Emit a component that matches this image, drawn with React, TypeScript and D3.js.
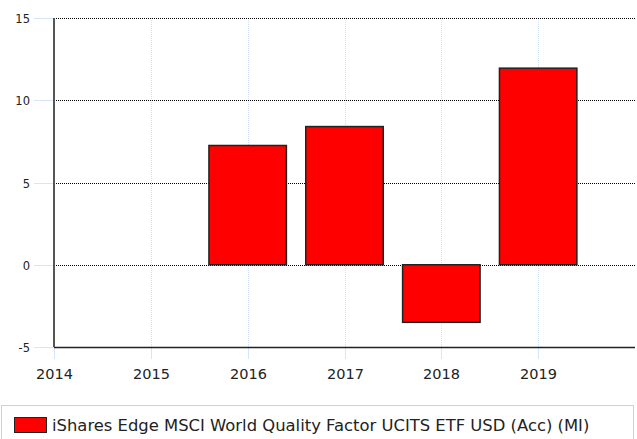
import React, { useEffect, useRef } from 'react';
import * as d3 from 'd3';

const years = [2016, 2017, 2018, 2019];
const returns = [7.25, 8.4, -3.5, 11.95];
const xTicks = [2014, 2015, 2016, 2017, 2018, 2019];
const yTicks = [-5, 0, 5, 10, 15];
const seriesName = 'iShares Edge MSCI World Quality Factor UCITS ETF USD (Acc) (MI)';

const width = 637;
const height = 439;
const margin = { top: 18, right: 2, bottom: 92, left: 54 };

const App = () => {
  const ref = useRef<SVGSVGElement | null>(null);

  useEffect(() => {
    const svg = d3.select(ref.current);
    svg.selectAll('*').remove();

    const x = d3.scaleLinear().domain([2014, 2020]).range([margin.left, width - margin.right]);
    const y = d3.scaleLinear().domain([-5, 15]).range([height - margin.bottom, margin.top]);
    const font = 'Tahoma, "DejaVu Sans", Verdana, sans-serif';

    // vertical grid (light blue)
    svg.append('g')
      .selectAll('line')
      .data(xTicks.slice(1))
      .enter()
      .append('line')
      .attr('x1', (d) => Math.round(x(d)) + 0.5)
      .attr('x2', (d) => Math.round(x(d)) + 0.5)
      .attr('y1', y(15))
      .attr('y2', y(-5))
      .attr('stroke', '#cfe0f5')
      .attr('stroke-dasharray', '1,1');

    // horizontal grid (black dotted)
    svg.append('g')
      .selectAll('line')
      .data(yTicks.slice(1))
      .enter()
      .append('line')
      .attr('x1', x(2014))
      .attr('x2', x(2020))
      .attr('y1', (d) => Math.round(y(d)) + 0.5)
      .attr('y2', (d) => Math.round(y(d)) + 0.5)
      .attr('stroke', '#000')
      .attr('stroke-dasharray', '1,1');

    // y tick marks + labels
    const yAxis = svg.append('g');
    yTicks.forEach((t) => {
      const yy = Math.round(y(t)) + 0.5;
      yAxis.append('line')
        .attr('x1', 34).attr('x2', x(2014))
        .attr('y1', yy).attr('y2', yy)
        .attr('stroke', '#d6e6f8');
      yAxis.append('text')
        .attr('x', 30)
        .attr('y', yy)
        .attr('dy', '0.35em')
        .attr('text-anchor', 'end')
        .style('font-family', font)
        .style('font-size', '11.5px')
        .style('fill', '#222')
        .text(t);
    });

    // x tick marks + labels
    const xAxis = svg.append('g');
    xTicks.forEach((t) => {
      const xx = Math.round(x(t)) + 0.5;
      xAxis.append('line')
        .attr('x1', xx).attr('x2', xx)
        .attr('y1', y(-5)).attr('y2', y(-5) + 12)
        .attr('stroke', '#d6e6f8');
      xAxis.append('text')
        .attr('x', xx)
        .attr('y', 379)
        .attr('text-anchor', 'middle')
        .style('font-family', font)
        .style('font-size', '14.5px')
        .style('fill', '#222')
        .text(t);
    });

    // bars
    const barW = (x(2015) - x(2014)) * 0.8;
    svg.append('g')
      .selectAll('rect')
      .data(years.map((yr, i) => ({ yr, v: returns[i] })))
      .enter()
      .append('rect')
      .attr('x', (d) => x(d.yr) - barW / 2)
      .attr('width', barW)
      .attr('y', (d) => y(Math.max(0, d.v)))
      .attr('height', (d) => Math.abs(y(d.v) - y(0)))
      .attr('fill', '#ff0000')
      .attr('stroke', '#222')
      .attr('stroke-width', 1.5);

    // axis lines
    svg.append('line')
      .attr('x1', x(2014)).attr('x2', x(2020))
      .attr('y1', Math.round(y(-5)) + 0.5).attr('y2', Math.round(y(-5)) + 0.5)
      .attr('stroke', '#222').attr('stroke-width', 1.5);
    svg.append('line')
      .attr('x1', x(2014)).attr('x2', x(2014))
      .attr('y1', y(15)).attr('y2', y(-5))
      .attr('stroke', '#555').attr('stroke-width', 2);

    // legend
    const lg = svg.append('g');
    lg.append('rect')
      .attr('x', 1.5).attr('y', 405.5)
      .attr('width', 632).attr('height', 40)
      .attr('fill', '#fff')
      .attr('stroke', '#d0d0d0');
    lg.append('rect')
      .attr('x', 14.5).attr('y', 417.5)
      .attr('width', 32).attr('height', 15)
      .attr('fill', '#ff0000')
      .attr('stroke', '#222');
    lg.append('text')
      .attr('x', 52)
      .attr('y', 431)
      .style('font-family', font)
      .style('font-size', '16.4px')
      .style('fill', '#222')
      .text(seriesName);
  }, []);

  return (
    <svg
      ref={ref}
      width={width}
      height={height}
      style={{ position: 'absolute', left: 0, top: 0, background: '#fff' }}
    />
  );
};

export default App;
